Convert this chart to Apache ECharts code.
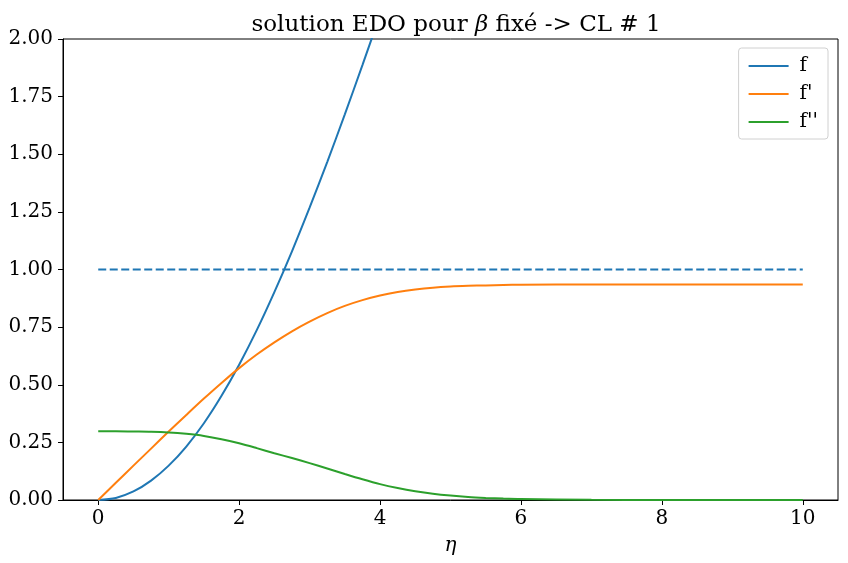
<!DOCTYPE html>
<html>
<head>
<meta charset="utf-8">
<script src="https://cdn.jsdelivr.net/npm/echarts@6/dist/echarts.min.js"></script>
<style>html,body{margin:0;padding:0;background:#fff}#c{width:848px;height:563px}</style>
</head>
<body>
<div id="c"></div>
<script>
const eta = [0,0.25,0.5,0.75,1,1.25,1.5,1.75,2,2.25,2.5,2.75,3,3.25,3.5,3.75,4,4.25,4.5,4.75,5,5.25,5.5,5.75,6,7,8,9,10];
const fVals = [0,0.009,0.037,0.084,0.149,0.232,0.333,0.452,0.587,0.737,0.902,1.079,1.268,1.466,1.673,1.887,2.106,2.330,2.557,2.787,3.020,3.253,3.486,3.720,3.953,4.888,5.823,6.758,7.693];
const fpVals = [0,0.0745,0.149,0.223,0.297,0.369,0.440,0.508,0.572,0.631,0.684,0.732,0.774,0.811,0.842,0.867,0.887,0.902,0.913,0.921,0.926,0.929,0.931,0.933,0.934,0.935,0.935,0.935,0.935];
const fppVals = [0.298,0.298,0.297,0.296,0.293,0.287,0.278,0.264,0.246,0.225,0.203,0.182,0.160,0.137,0.113,0.090,0.069,0.052,0.038,0.027,0.019,0.013,0.009,0.006,0.004,0.001,0,0,0];
const refEta = [0,10];
const refVals = [1,1];
const xTicks = [0,2,4,6,8,10];
const seriesNames = ['f', "f'", "f''"];
const colors = ['#1f77b4','#ff7f0e','#2ca02c'];

const FONT = 'DejaVu Serif';
const zip = (xs, ys) => xs.map((x,i)=>[x, ys[i]]);
const chart = echarts.init(document.getElementById('c'), null, {renderer:'canvas'});
const lineSeries = (name, data, color) => ({
  name, type:'line', data, symbol:'none', clip:true, smooth:0.3,
  lineStyle:{color, width:2}, itemStyle:{color}, z:3
});
chart.setOption({
  animation:false,
  backgroundColor:'#fff',
  title:{
    text:'{a|solution EDO pour }{b|β}{a| fixé -> CL # 1}',
    left:451, top:9, textAlign:'center',
    textStyle:{fontWeight:'normal', rich:{
      a:{fontFamily:FONT, fontSize:23, fontWeight:'normal', color:'#000'},
      b:{fontFamily:FONT, fontSize:23, fontWeight:'normal', fontStyle:'italic', color:'#000'}
    }}
  },
  grid:{left:63, right:10, top:39, bottom:63, show:true, borderColor:'#000', borderWidth:1, backgroundColor:'transparent', containLabel:false},
  legend:{
    data:seriesNames, orient:'vertical', right:20, top:48,
    icon:'rect', itemWidth:40, itemHeight:2, itemGap:8,
    padding:[8,10,7,10],
    borderColor:'#d0d0d0', borderWidth:1, borderRadius:3, backgroundColor:'rgba(255,255,255,0.8)',
    textStyle:{fontFamily:FONT, fontSize:20, color:'#000', padding:[0,0,0,6]}
  },
  xAxis:{
    type:'value', min:-0.5, max:10.5,
    name:'η', nameLocation:'middle', nameGap:36,
    nameTextStyle:{fontFamily:FONT, fontSize:20, fontStyle:'italic', color:'#000'},
    axisLine:{show:true, onZero:false, lineStyle:{color:'#000', width:1}},
    axisTick:{show:true, inside:false, length:5, customValues:xTicks, lineStyle:{color:'#000'}},
    axisLabel:{customValues:xTicks, fontFamily:FONT, fontSize:20, color:'#000', margin:9},
    splitLine:{show:false}
  },
  yAxis:{
    type:'value', min:0, max:2, interval:0.25,
    axisLine:{show:true, onZero:false, lineStyle:{color:'#000', width:1}},
    axisTick:{show:true, inside:false, length:5, lineStyle:{color:'#000'}},
    axisLabel:{fontFamily:FONT, fontSize:20, color:'#000', margin:10, formatter:v=>v.toFixed(2)},
    splitLine:{show:false}
  },
  series:[
    lineSeries(seriesNames[0], zip(eta, fVals), colors[0]),
    {name:'ref', type:'line', data:zip(refEta, refVals), symbol:'none',
     lineStyle:{color:colors[0], width:2, type:[8,3.5]}, z:2},
    lineSeries(seriesNames[1], zip(eta, fpVals), colors[1]),
    lineSeries(seriesNames[2], zip(eta, fppVals), colors[2])
  ]
});
</script>
</body>
</html>
